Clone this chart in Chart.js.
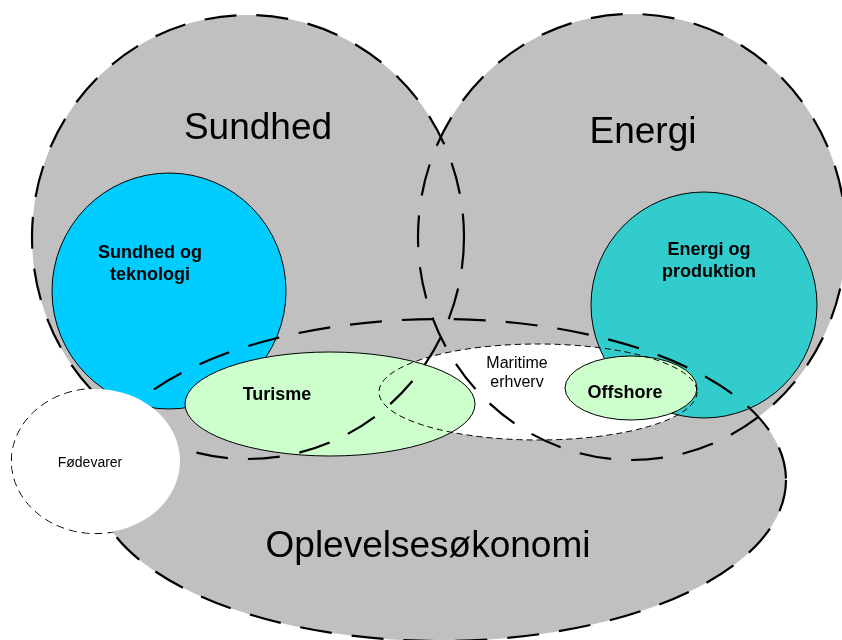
<!DOCTYPE html>
<html>
<head>
<meta charset="utf-8">
<script src="https://cdn.jsdelivr.net/npm/chart.js@4/dist/chart.umd.min.js"></script>
<style>
  html, body { margin: 0; padding: 0; background: #fff; }
  #wrap { width: 842px; height: 640px; position: relative; }
</style>
</head>
<body>
<div id="wrap"><canvas id="venn"></canvas></div>
<script>
// Areas of the diagram (centre and half-axes in diagram units)
const areaNames = ['Sundhed', 'Energi', 'Oplevelsesøkonomi', 'Sundhed og teknologi',
    'Energi og produktion', 'Maritime erhverv', 'Turisme', 'Offshore', 'Fødevarer'];
const areaX  = [248, 632, 440, 169, 704, 538, 330, 631, 96];
const areaY  = [237, 237, 480, 291, 305, 392, 404, 388, 461];
const areaRX = [216, 214, 346, 117, 113, 159, 145, 66, 84];
const areaRY = [222, 223, 161, 118, 113, 48, 52, 32, 72];

// Label text lines and anchor (first baseline) per area
const labelLines = [['Sundhed'], ['Energi'], ['Oplevelsesøkonomi'], ['Sundhed og', 'teknologi'],
    ['Energi og', 'produktion'], ['Maritime', 'erhverv'], ['Turisme'], ['Offshore'], ['Fødevarer']];
const labelX = [258, 643, 428, 150, 709, 517, 277, 625, 90];
const labelY = [139, 143, 557, 258, 255, 368, 400, 398, 467];

const GRAY = '#c0c0c0';
const fills = [GRAY, GRAY, GRAY, '#00ccff', '#33cccc', '#ffffff', '#ccffcc', '#ccffcc', '#ffffff'];
const fonts = ['37px', '37px', '37px', 'bold 18px', 'bold 18px', '16px', 'bold 18px', 'bold 18px', '14px'];
const lineGap = [0, 0, 0, 22, 22, 19, 0, 0, 0];

function ellipsePath(chart, i, grow) {
    const xs = chart.scales.x, ys = chart.scales.y;
    const px = xs.getPixelForValue(areaX[i]);
    const py = ys.getPixelForValue(areaY[i]);
    const rx = Math.abs(xs.getPixelForValue(areaX[i] + areaRX[i]) - px) + (grow || 0);
    const ry = Math.abs(ys.getPixelForValue(areaY[i] + areaRY[i]) - py) + (grow || 0);
    const ctx = chart.ctx;
    ctx.beginPath();
    ctx.ellipse(px, py, rx, ry, 0, 0, Math.PI * 2);
}

function fillArea(chart, i) {
    ellipsePath(chart, i);
    chart.ctx.fillStyle = fills[i];
    chart.ctx.fill();
}

function strokeArea(chart, i, width, dash, grow) {
    const ctx = chart.ctx;
    ellipsePath(chart, i, grow);
    ctx.setLineDash(dash);
    ctx.lineWidth = width;
    ctx.strokeStyle = '#000';
    ctx.stroke();
    ctx.setLineDash([]);
}

const vennPlugin = {
    id: 'venn',
    beforeDatasetsDraw(chart) {
        const ctx = chart.ctx;
        ctx.save();

        // Fødevarer rim first, the grey areas hide the part lying on them
        strokeArea(chart, 8, 1, [8, 5], 0.6);

        // grey main areas
        [0, 1, 2].forEach(i => fillArea(chart, i));
        fillArea(chart, 5);

        // sub areas with thin solid rims
        [3, 4, 6, 7].forEach(i => {
            fillArea(chart, i);
            strokeArea(chart, i, 1, []);
        });

        // maritime rim, then the long dashed main rims
        strokeArea(chart, 5, 1, [6, 4]);
        [0, 1, 2].forEach(i => strokeArea(chart, i, 2.2, [32, 20]));

        fillArea(chart, 8);

        // labels
        ctx.fillStyle = '#000';
        ctx.textAlign = 'center';
        ctx.textBaseline = 'alphabetic';
        labelLines.forEach((lines, i) => {
            ctx.font = fonts[i] + ' "Liberation Sans", Arial, sans-serif';
            const x = chart.scales.x.getPixelForValue(labelX[i]);
            lines.forEach((t, k) => {
                const y = chart.scales.y.getPixelForValue(labelY[i] + k * lineGap[i]);
                ctx.fillText(t, x, y);
            });
        });
        ctx.restore();
    }
};

new Chart(document.getElementById('venn'), {
    type: 'scatter',
    data: {
        labels: areaNames,
        datasets: [{
            data: areaX.map((x, i) => ({ x: x, y: areaY[i] })),
            pointRadius: 0,
            pointHoverRadius: 0
        }]
    },
    options: {
        responsive: true,
        maintainAspectRatio: false,
        animation: false,
        layout: { padding: 0 },
        events: [],
        scales: {
            x: { type: 'linear', min: 0, max: 842, display: false },
            y: { type: 'linear', min: 0, max: 640, reverse: true, display: false }
        },
        plugins: {
            legend: { display: false },
            tooltip: { enabled: false }
        }
    },
    plugins: [vennPlugin]
});
</script>
</body>
</html>
